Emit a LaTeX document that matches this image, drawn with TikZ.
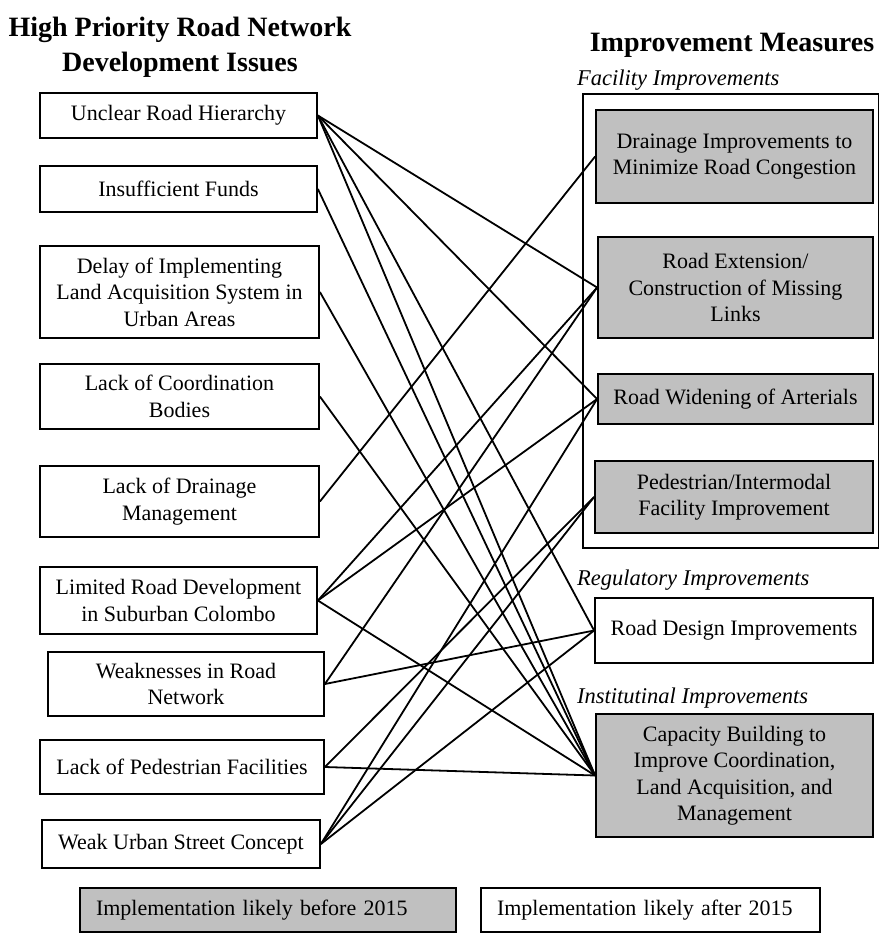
\documentclass[tikz,border=0pt]{standalone}
\usepackage{fontspec}
\setmainfont{Liberation Serif}
\definecolor{boxgray}{RGB}{192,192,192}
\begin{document}
\begin{tikzpicture}[x=1pt,y=-1pt,
  box/.style={draw, line width=1.8pt, align=center, inner sep=0pt,
    font=\fontsize{22}{26.5}\selectfont},
  shaded/.style={box, fill=boxgray},
  link/.style={line width=1.8pt},
  head/.style={font=\fontsize{28}{35}\selectfont\bfseries, align=center, inner sep=0pt},
  group/.style={font=\fontsize{22.5}{27}\selectfont\itshape, anchor=west, inner sep=0pt},
  key/.style={box, align=left, inner xsep=16pt}]
\useasboundingbox (0,0) rectangle (880,934);

% headings
\node[head] (hleft) at (180,47) {High Priority Road Network\\Development Issues};
\node[head] (hright) at (732,45) {Improvement Measures};
\node[group] (gfac) at (577,80) {Facility Improvements};
\node[group] (greg) at (577,580) {Regulatory Improvements};
\node[group] (ginst) at (577,698) {Institutinal Improvements};

% frame around the facility measures
\draw[line width=1.8pt] (583,94) rectangle (878.5,548);

% development issues
\node[box, minimum width=277pt, minimum height=45pt] (u1) at (178.5,115.5) {Unclear Road Hierarchy};
\node[box, minimum width=277pt, minimum height=46pt] (u2) at (178.5,189) {Insufficient Funds};
\node[box, minimum width=279pt, minimum height=92pt] (u3) at (179.5,292) {Delay of Implementing\\Land Acquisition System in\\Urban Areas};
\node[box, minimum width=279pt, minimum height=65pt] (u4) at (179.5,396.5) {Lack of Coordination\\Bodies};
\node[box, minimum width=279pt, minimum height=71pt] (u5) at (179.5,501.5) {Lack of Drainage\\Management};
\node[box, minimum width=277pt, minimum height=67pt] (u6) at (178.5,600.5) {Limited Road Development\\in Suburban Colombo};
\node[box, minimum width=276pt, minimum height=64pt] (u7) at (186,684) {Weaknesses in Road\\Network};
\node[box, minimum width=284pt, minimum height=54pt] (u8) at (182,767) {Lack of Pedestrian Facilities};
\node[box, minimum width=278pt, minimum height=48pt] (u9) at (181,844) {Weak Urban Street Concept};

% improvement measures
\node[shaded, minimum width=277pt, minimum height=93pt] (m1) at (734.5,156.5) {Drainage Improvements to\\Minimize Road Congestion};
\node[shaded, minimum width=275pt, minimum height=101pt] (m2) at (735.5,287.5) {Road Extension/\\Construction of Missing\\Links};
\node[shaded, minimum width=275pt, minimum height=50pt] (m3) at (735.5,399) {Road Widening of Arterials};
\node[shaded, minimum width=278pt, minimum height=72pt] (m4) at (734,497) {Pedestrian/Intermodal\\Facility Improvement};
\node[box, minimum width=278pt, minimum height=65pt] (m5) at (734,630.5) {Road Design Improvements};
\node[shaded, minimum width=277pt, minimum height=123pt] (m6) at (734.5,775.5) {Capacity Building to\\Improve Coordination,\\Land Acquisition, and\\Management};

% links between issues and measures
\draw[link] (u1.east) -- (m2.west);
\draw[link] (u1.east) -- (m3.west);
\draw[link] (u1.east) -- (m5.west);
\draw[link] (u1.east) -- (m6.west);
\draw[link] (u2.east) -- (m6.west);
\draw[link] (u3.east) -- (m6.west);
\draw[link] (u4.east) -- (m6.west);
\draw[link] (u5.east) -- (m1.west);
\draw[link] (u6.east) -- (m2.west);
\draw[link] (u6.east) -- (m3.west);
\draw[link] (u6.east) -- (m6.west);
\draw[link] (u7.east) -- (m2.west);
\draw[link] (u7.east) -- (m5.west);
\draw[link] (u8.east) -- (m4.west);
\draw[link] (u8.east) -- (m6.west);
\draw[link] (u9.east) -- (m3.west);
\draw[link] (u9.east) -- (m4.west);
\draw[link] (u9.east) -- (m5.west);

% legend
\node[key, fill=boxgray, minimum width=376pt, minimum height=44pt, text width=344pt] (k1) at (268,910) {Implementation likely before 2015};
\node[key, minimum width=339pt, minimum height=44pt, text width=307pt] (k2) at (650.5,910) {Implementation likely after 2015};
\end{tikzpicture}
\end{document}
